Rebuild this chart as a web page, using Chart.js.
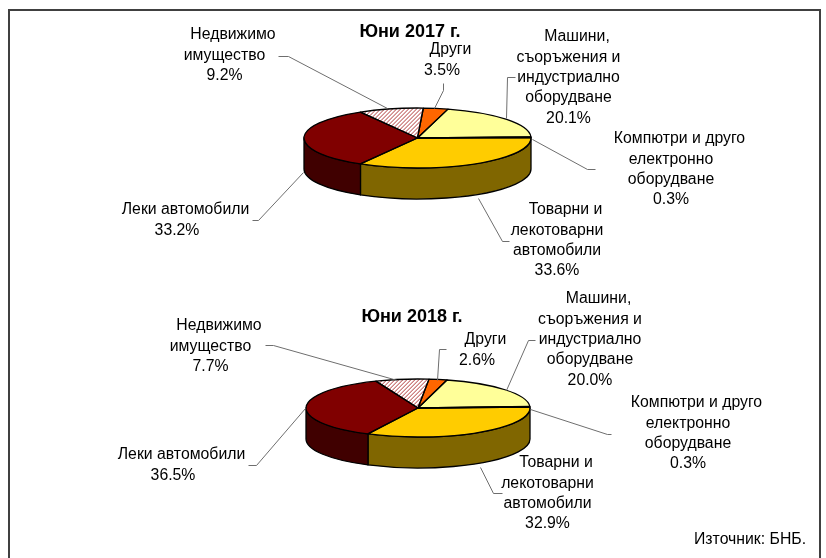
<!DOCTYPE html>
<html lang="bg">
<head>
<meta charset="utf-8">
<title>Юни 2017 г. / Юни 2018 г.</title>
<script src="https://cdn.jsdelivr.net/npm/chart.js@4/dist/chart.umd.js"></script>
<style>
html,body{margin:0;padding:0;background:#fff;overflow:hidden}
#page{position:relative;width:826px;height:558px;overflow:hidden}
#frame{position:absolute;left:8px;top:9px;width:813px;height:560px;border:2px solid #404040;box-sizing:border-box}
canvas{position:absolute;left:0}
#c1{top:0}
#c2{top:279px}
#source{position:absolute;left:694px;top:530px;font:15.8px "Liberation Sans",Arial,sans-serif;color:#000;white-space:nowrap;line-height:18px}
</style>
</head>
<body>
<div id="page">
  <div id="frame"></div>
  <canvas id="c1" width="826" height="279"></canvas>
  <canvas id="c2" width="826" height="279"></canvas>
  <div id="source">Източник: БНБ.</div>
</div>
<script>
// ---- data ----
const categories = [
  ["Компютри и друго", "електронно", "оборудване"],
  ["Товарни и", "лекотоварни", "автомобили"],
  ["Леки автомобили"],
  ["Недвижимо", "имущество"],
  ["Други"],
  ["Машини,", "съоръжения и", "индустриално", "оборудване"]
];
const values2017 = [0.3, 33.6, 33.2, 9.2, 3.5, 20.1];
const values2018 = [0.3, 32.9, 36.5, 7.7, 2.6, 20.0];
const titleText2017 = "Юни 2017 г.";
const titleText2018 = "Юни 2018 г.";

// ---- styles ----
const topColors  = ["#000000", "#FFCC00", "#800000", "HATCH", "#FF6600", "#FFFF99"];
const sideColors = ["#000000", "#806600", "#400000", "#804040", "#803300", "#80804D"];
const FONT = '15.8px "Liberation Sans", Arial, sans-serif';
const FIRST_LINE_SHIFT = 8.5;

// ---- layout (canvas-local pixels) ----
const layout2017 = {
  rotation: 88, radius: 113.5, squash: 30 / 113.5, depth: 31,
  padding: {left: 9, top: 0, right: 0, bottom: 45.8}, titleTop: 21.2, titleX: 410,
  labelX: [671, 557, 177, 224.5, 442, 568.5],
  labelY: [139, 210, 210, 35, 50, 37],
  leaders: [
    [[532,139],[587,169],[595,169]],
    [[478,198],[502,241],[509,241]],
    [[303,172],[258,220],[252,220]],
    [[278,56],[288,56],[387,108]],
    [[443,83],[443,90],[434,108]],
    [[515,77],[507,77],[506,118]]
  ]
};
const layout2018 = {
  rotation: 87, radius: 112, squash: 29 / 112, depth: 31,
  padding: {left: 10, top: 0, right: 0, bottom: 69.8}, titleTop: 27.2, titleX: 412,
  labelX: [688, 547.5, 173, 210.5, 477, 590],
  labelY: [124, 184, 176, 47, 61, 20],
  leaders: [
    [[530,130],[607,155],[611,155]],
    [[480,188],[493,214],[502,214]],
    [[305,129],[256,186],[248,186]],
    [[265,66],[273,66],[397,101]],
    [[446,70],[439,70],[437,101]],
    [[535,61],[528,61],[506,111]]
  ]
};

function hatchPattern(ctx, squash) {
  const s = document.createElement("canvas");
  s.width = s.height = 4;
  const g = s.getContext("2d");
  g.fillStyle = "#FFFFFF"; g.fillRect(0, 0, 4, 4);
  g.fillStyle = "#B23A3A";
  for (let i = 0; i < 4; i++) g.fillRect(3 - i, i, 1, 1);
  const p = ctx.createPattern(s, "repeat");
  p.setTransform(new DOMMatrix().scale(1, 1 / squash));
  return p;
}

const pie3d = {
  id: "pie3d",
  afterLayout(chart, args, opts) {
    if (chart.titleBlock) {
      chart.titleBlock.left = opts.layout.titleX - 200;
      chart.titleBlock.right = opts.layout.titleX + 200;
    }
  },
  beforeDatasetsDraw(chart, args, opts) {
    const ctx = chart.ctx, arcs = chart.getDatasetMeta(0).data, L = opts.layout;
    const a0 = arcs[0], cx = a0.x, cy = a0.y, rx = a0.outerRadius, ry = rx * L.squash;
    // side wall: only the part of each slice on the near half of the ellipse
    arcs.forEach((arc, i) => {
      const TAU = 2 * Math.PI;
      let s = arc.startAngle % TAU;
      if (s > Math.PI) s -= TAU;
      if (s < -Math.PI) s += TAU;
      let e = s + (arc.endAngle - arc.startAngle);
      s = Math.max(s, 0); e = Math.min(e, Math.PI);
      if (e <= s) return;
      ctx.beginPath();
      ctx.ellipse(cx, cy, rx, ry, 0, s, e);
      ctx.ellipse(cx, cy + L.depth, rx, ry, 0, e, s, true);
      ctx.closePath();
      ctx.fillStyle = sideColors[i];
      ctx.fill();
      ctx.lineWidth = 1.3; ctx.strokeStyle = "#000"; ctx.lineJoin = "round";
      ctx.stroke();
    });
    // squash the library's round pie into the top face
    ctx.save();
    ctx.translate(cx, cy); ctx.scale(1, L.squash); ctx.translate(-cx, -cy);
  },
  afterDatasetsDraw(chart, args, opts) {
    const ctx = chart.ctx, arcs = chart.getDatasetMeta(0).data, L = opts.layout;
    ctx.restore();
    // slice outlines at constant line width
    arcs.forEach(arc => {
      const ry = arc.outerRadius * L.squash;
      ctx.beginPath();
      ctx.moveTo(arc.x, arc.y);
      ctx.ellipse(arc.x, arc.y, arc.outerRadius, ry, 0, arc.startAngle, arc.endAngle);
      ctx.closePath();
      ctx.lineWidth = 1.3; ctx.strokeStyle = "#000"; ctx.lineJoin = "round";
      ctx.stroke();
    });
    // leader lines
    ctx.lineWidth = 1; ctx.strokeStyle = "#6e6e6e"; ctx.lineJoin = "miter";
    L.leaders.forEach(pts => {
      ctx.beginPath();
      pts.forEach((p, j) => j ? ctx.lineTo(p[0] + .5, p[1] + .5) : ctx.moveTo(p[0] + .5, p[1] + .5));
      ctx.stroke();
    });
    // labels
    const values = chart.data.datasets[0].data;
    ctx.font = FONT; ctx.fillStyle = "#000"; ctx.textAlign = "center"; ctx.textBaseline = "middle";
    categories.forEach((lines, i) => {
      const all = lines.concat(values[i].toFixed(1) + "%");
      all.forEach((t, j) => {
        ctx.fillText(t, L.labelX[i] + (j === 0 ? FIRST_LINE_SHIFT : 0), L.labelY[i] + j * 20.3);
      });
    });
  }
};

function makeChart(id, values, titleText, L) {
  const el = document.getElementById(id);
  const ctx = el.getContext("2d");
  const colors = topColors.map(c => c === "HATCH" ? hatchPattern(ctx, L.squash) : c);
  return new Chart(ctx, {
    type: "pie",
    data: {
      labels: categories.map(l => l.join(" ")),
      datasets: [{data: values, backgroundColor: colors, borderWidth: 0}]
    },
    options: {
      responsive: false, animation: false, devicePixelRatio: 1,
      rotation: L.rotation, radius: L.radius,
      layout: {padding: L.padding},
      events: [],
      plugins: {
        legend: {display: false},
        tooltip: {enabled: false},
        title: {
          display: true, text: titleText, color: "#000",
          font: {family: '"Liberation Sans", Arial, sans-serif', size: 18, weight: "bold", lineHeight: 1.2},
          padding: {top: L.titleTop, bottom: 0}
        },
        pie3d: {layout: L}
      }
    },
    plugins: [pie3d]
  });
}

makeChart("c1", values2017, titleText2017, layout2017);
makeChart("c2", values2018, titleText2018, layout2018);
</script>
</body>
</html>
